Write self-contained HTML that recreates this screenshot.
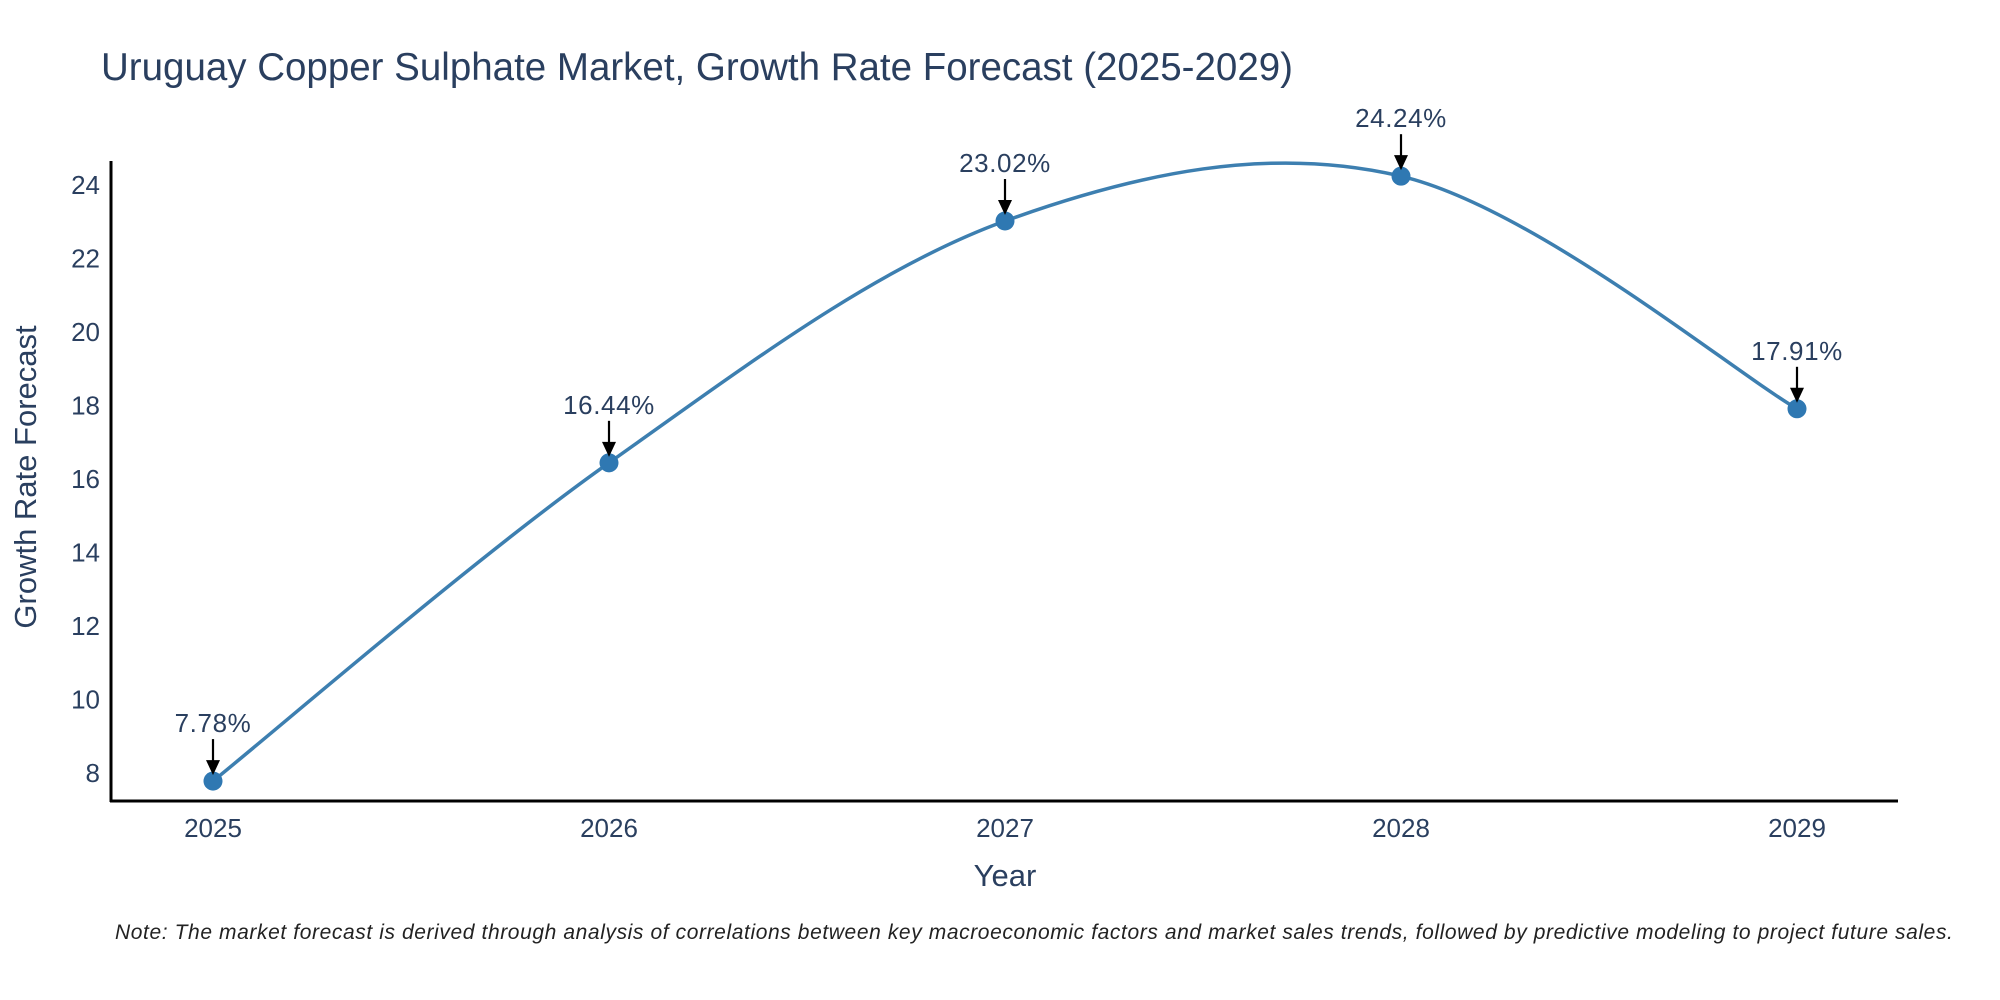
<!DOCTYPE html>
<html><head><meta charset="utf-8"><style>
body{margin:0;background:#fff;}
svg{display:block;font-family:"Liberation Sans",sans-serif;}
</style></head><body>
<svg id="chart" width="2000" height="1000" viewBox="0 0 2000 1000">
<text x="101" y="80" font-size="38.5" fill="#2a3f5f">Uruguay Copper Sulphate Market, Growth Rate Forecast (2025-2029)</text>
<g id="yticks"></g><g id="xticks"></g>
<line x1="111" y1="161" x2="111" y2="802" stroke="#000" stroke-width="3"/>
<line x1="110" y1="801" x2="1898" y2="801" stroke="#000" stroke-width="3"/>
<text transform="translate(36,477) rotate(-90)" text-anchor="middle" font-size="31" fill="#2a3f5f">Growth Rate Forecast</text>
<text x="1005" y="886" text-anchor="middle" font-size="31" fill="#2a3f5f">Year</text>
<text x="115" y="939" font-size="21" font-style="italic" fill="#222" letter-spacing="0.6">Note: The market forecast is derived through analysis of correlations between key macroeconomic factors and market sales trends, followed by predictive modeling to project future sales.</text>
<g id="series"></g>
</svg>
<script>
const years=[2025,2026,2027,2028,2029];
const values=[7.78,16.44,23.02,24.24,17.91];
const yTicks=[8,10,12,14,16,18,20,22,24];
const labels=["7.78%","16.44%","23.02%","24.24%","17.91%"];
const NS="http://www.w3.org/2000/svg";
function xS(v){return 213+(v-2025)*396;}
function yS(v){return 773-(v-8)*36.75;}
function mk(t,a,p){const e=document.createElementNS(NS,t);for(const k in a)e.setAttribute(k,a[k]);p.appendChild(e);return e;}
const yt=document.getElementById('yticks');
yTicks.forEach(v=>{const t=mk('text',{x:100,y:yS(v)+9,'text-anchor':'end','font-size':26,fill:'#2a3f5f'},yt);t.textContent=v;

});
const xt=document.getElementById('xticks');
years.forEach(v=>{const t=mk('text',{x:xS(v),y:837,'text-anchor':'middle','font-size':26,fill:'#2a3f5f'},xt);t.textContent=v;

});
const s=document.getElementById('series');
const P=years.map((y,i)=>[xS(y),yS(values[i])]);
let d='M'+P[0][0]+','+P[0][1];
const k=0.5;
for(let i=0;i<P.length-1;i++){const p0=P[i-1]||P[i],p1=P[i],p2=P[i+1],p3=P[i+2]||P[i+1];
const c1=[p1[0]+(p2[0]-p0[0])*k/3,p1[1]+(p2[1]-p0[1])*k/3];
const c2=[p2[0]-(p3[0]-p1[0])*k/3,p2[1]-(p3[1]-p1[1])*k/3];
d+=' C'+c1+' '+c2+' '+p2;}
const ln=mk('path',{d:d,fill:'none',stroke:'#3d7fb0','stroke-width':3.5},s);


P.forEach((p,i)=>{const c=mk('circle',{cx:p[0],cy:p[1],r:9.5,fill:'#2f78b2'},s);


const a=mk('line',{x1:p[0],y1:p[1]-42,x2:p[0],y2:p[1]-18,stroke:'#000','stroke-width':2.2},s);


const h=mk('path',{d:'M'+(p[0]-7)+','+(p[1]-21)+' L'+(p[0]+7)+','+(p[1]-21)+' L'+p[0]+','+(p[1]-6)+' Z',fill:'#000'},s);


const t=mk('text',{x:p[0],y:p[1]-49,'text-anchor':'middle','font-size':26,fill:'#2a3f5f','letter-spacing':0.6},s);t.textContent=labels[i];

});
</script>
</body></html>
